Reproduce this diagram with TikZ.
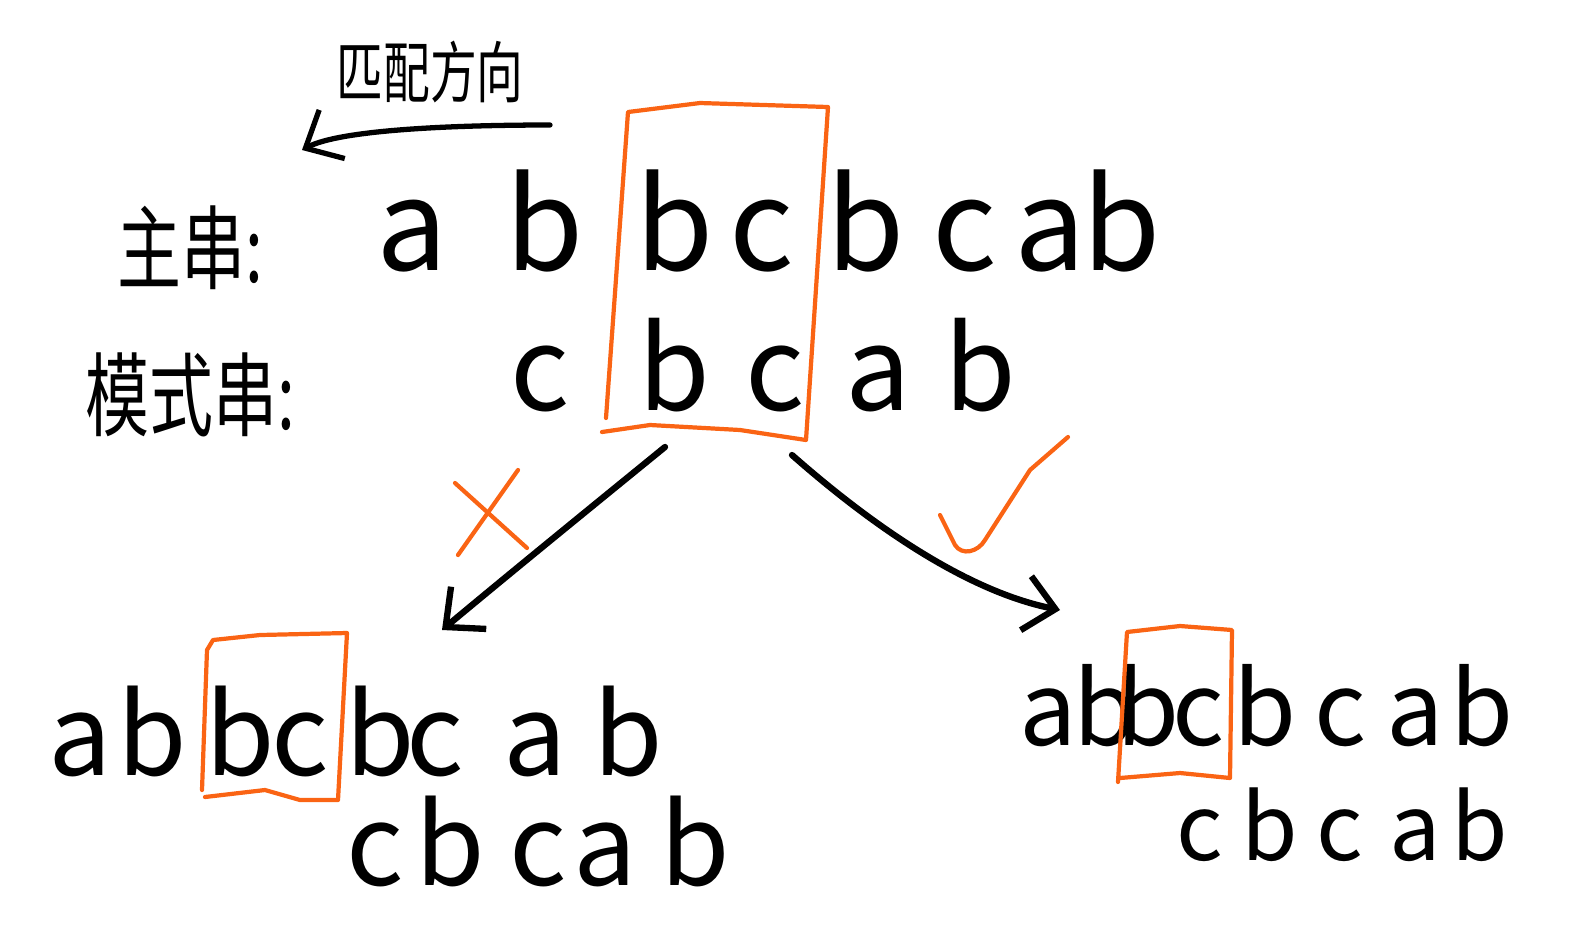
\documentclass[tikz,border=0pt]{standalone}
\usepackage{fontspec}
\setmainfont{Noto Sans CJK SC}
\newfontfamily\handcjk[FakeStretch=0.7]{Noto Sans CJK SC}
\usetikzlibrary{arrows.meta}
\definecolor{markorange}{RGB}{250,100,20}

\begin{document}
\begin{tikzpicture}[x=0.02cm, y=-0.02cm, line cap=round, line join=round,
    >={Straight Barb[length=6mm,width=11mm]},
    ink/.style={black, line width=3.6pt},
    hilite/.style={markorange, line width=2.4pt},
    letter/.style={anchor=base, inner sep=0pt}]
    \useasboundingbox (0,0) rectangle (1576,938);
    % Labels
    \node[font=\fontsize{38}{38}\selectfont\handcjk] (dir) at (430,72) {匹配方向};
    \node[font=\fontsize{52}{52}\selectfont\handcjk] (lblmain) at (190,248) {主串:};
    \node[font=\fontsize{52}{52}\selectfont\handcjk] (lblpat) at (190,395) {模式串:};
    \coordinate (dirfrom) at (550,125);
    \coordinate (dirto) at (302,150);
    \draw[->, black, line width=3pt] (dirfrom) .. controls (450,125) and (340,130) .. (dirto);
    % Main string and pattern
    \foreach \x/\c [count=\i] in {412/a,545/b,675/b,762/c,866/b,965/c,1050/a,1122/b}
        \node[letter, font=\fontsize{72}{72}\selectfont] (m\i) at (\x,270) {\c};
    \foreach \x/\c [count=\i] in {540/c,674/b,775/c,878/a,980/b}
        \node[letter, font=\fontsize{66}{66}\selectfont] (p\i) at (\x,410) {\c};
    \draw[hilite] (606,418) -- (628,112) -- (700,103) -- (828,107) -- (806,440)
        -- (740,430) -- (650,425) -- (602,432);
    % Wrong shift
    \foreach \x/\c [count=\i] in {80/a,152/b,240/b,300/c,380/b,435/c,535/a,628/b}
        \node[letter, font=\fontsize{64}{64}\selectfont] (l\i) at (\x,775) {\c};
    \foreach \x/\c [count=\i] in {375/c,450/b,538/c,605/a,695/b}
        \node[letter, font=\fontsize{64}{64}\selectfont] (lp\i) at (\x,885) {\c};
    \draw[hilite] (202,790) -- (207,650) -- (213,640) -- (260,635) -- (347,633)
        -- (338,800) -- (300,800) -- (265,790) -- (205,797);
    \coordinate (lfrom) at (665,447);
    \coordinate (lto) at (442,630);
    \draw[->, ink] (lfrom) .. controls (600,500) and (520,565) .. (lto);
    \draw[hilite] (455,483) -- (527,548);
    \draw[hilite] (518,470) -- (458,555);
    % Right shift
    \foreach \x/\c [count=\i] in {1048/a,1105/b,1148/b,1198/c,1265/b,1340/c,1415/a,1482/b}
        \node[letter, font=\fontsize{58}{58}\selectfont] (r\i) at (\x,745) {\c};
    \foreach \x/\c [count=\i] in {1200/c,1270/b,1340/c,1415/a,1480/b}
        \node[letter, font=\fontsize{52}{52}\selectfont] (rp\i) at (\x,860) {\c};
    \draw[hilite] (1118,782) -- (1127,632) -- (1180,626) -- (1232,630)
        -- (1230,778) -- (1180,773) -- (1120,778);
    \coordinate (rfrom) at (792,455);
    \coordinate (rto) at (1060,610);
    \draw[->, ink] (rfrom) .. controls (860,515) and (960,590) .. (rto);
    \draw[hilite] (940,515) -- (955,545) .. controls (962,556) and (978,552) .. (985,540)
        -- (1030,470) -- (1068,437);
\end{tikzpicture}
\end{document}
